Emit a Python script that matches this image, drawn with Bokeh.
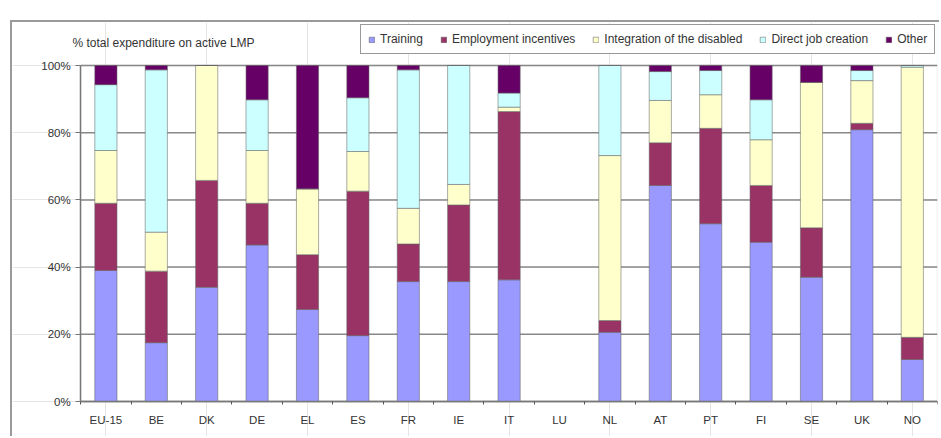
from bokeh.plotting import figure
from bokeh.models import (ColumnDataSource, FixedTicker, Range1d, Label, LinearAxis,
                          PrintfTickFormatter, BoxAnnotation)
from bokeh.embed import file_html
from bokeh.resources import INLINE

countries = ["EU-15", "BE", "DK", "DE", "EL", "ES", "FR", "IE", "IT", "LU",
             "NL", "AT", "PT", "FI", "SE", "UK", "NO"]
series_names = ["Training", "Employment incentives", "Integration of the disabled",
                "Direct job creation", "Other"]
training = [39.0, 17.5, 34.0, 46.6, 27.4, 19.6, 35.7, 35.7, 36.2, 0.0,
            20.6, 64.3, 52.9, 47.4, 37.0, 80.9, 12.5]
employment = [20.0, 21.3, 31.8, 12.4, 16.3, 43.0, 11.2, 22.8, 50.1, 0.0,
              3.5, 12.7, 28.4, 16.9, 14.7, 1.9, 6.6]
integration = [15.7, 11.6, 34.2, 15.7, 19.6, 11.8, 10.6, 6.1, 1.3, 0.0,
               49.1, 12.6, 10.0, 13.6, 43.3, 12.7, 80.4]
direct = [19.6, 48.3, 0.0, 15.1, 0.0, 16.0, 41.2, 35.4, 4.2, 0.0,
          26.8, 8.6, 7.2, 11.9, 0.0, 3.0, 0.5]
other = [5.7, 1.3, 0.0, 10.2, 36.7, 9.6, 1.3, 0.0, 8.2, 0.0,
         0.0, 1.8, 1.5, 10.2, 5.0, 1.5, 0.0]
y_ticks = [0, 20, 40, 60, 80, 100]

colors = ["#9999FF", "#993366", "#FFFFCC", "#CCFFFF", "#660066"]
FONT = "Liberation Sans"

n = len(countries)
xs = list(range(n))
src = ColumnDataSource(dict(x=xs, s0=training, s1=employment, s2=integration,
                            s3=direct, s4=other))

# the frame covers the whole canvas so that title, legend and tick labels are not clipped
x_lo, x_hi = -0.5, n - 0.5
px_per_x = 50.4
px_per_y = 3.36
x_start = x_hi - 925 / px_per_x
y_top = (401 - 22) / px_per_y
y_bottom = -(438 - 401) / px_per_y

p = figure(width=929, height=416, output_backend="svg", toolbar_location=None,
           x_range=Range1d(x_start, x_hi), y_range=Range1d(y_bottom, y_top),
           x_axis_location=None, y_axis_location=None,
           min_border_left=0, min_border_right=4, min_border_top=0, min_border_bottom=0)
p.styles = {"margin-left": "10px", "margin-top": "20px",
            "border-left": "2px solid #9a9a9a", "border-top": "2px solid #9a9a9a"}
p.outline_line_color = None
p.background_fill_color = "white"
p.border_fill_color = "white"

# plot-area border
p.add_layout(BoxAnnotation(left=x_lo, right=x_hi, bottom=0, top=100, fill_alpha=0,
                           line_color="#bbbbbb", line_width=1.5, level="underlay"))
# horizontal grid lines at the y ticks
p.segment(x0=x_lo, x1=x_hi, y0=y_ticks, y1=y_ticks, line_color="#888888", line_width=1.5)

p.vbar_stack(["s0", "s1", "s2", "s3", "s4"], x="x", width=0.44, color=colors,
             line_color="#666666", line_alpha=0.55, line_width=1,
             source=src, legend_label=series_names)

yax = LinearAxis(fixed_location=x_lo, bounds=(0, 100))
yax.ticker = FixedTicker(ticks=y_ticks)
yax.formatter = PrintfTickFormatter(format="%d%%")
yax.major_tick_out = 5
yax.major_tick_in = 0
yax.minor_tick_out = 0
yax.minor_tick_in = 0
yax.major_label_standoff = 5
p.add_layout(yax, "left")

xax = LinearAxis(fixed_location=0, bounds=(x_lo, x_hi))
xax.ticker = FixedTicker(ticks=xs, minor_ticks=[i - 0.5 for i in range(n + 1)])
xax.major_label_overrides = {i: c for i, c in enumerate(countries)}
xax.major_tick_out = 0
xax.major_tick_in = 0
xax.minor_tick_out = 3
xax.minor_tick_in = 0
xax.major_label_standoff = 9
p.add_layout(xax, "below")

for ax in (xax, yax):
    ax.axis_line_color = "#777777"
    ax.axis_line_width = 1.5
    ax.major_tick_line_color = "#777777"
    ax.minor_tick_line_color = "#555555"
    ax.major_label_text_font = FONT
    ax.major_label_text_font_size = "11.5px"
    ax.major_label_text_color = "#333333"

title = Label(x=x_start + 60 / px_per_x, y=(401 - 42) / px_per_y,
              text="% total expenditure on active LMP",
              text_font=FONT, text_font_size="12px", text_color="#333333",
              text_baseline="middle", text_align="left")
p.add_layout(title)

lg = p.legend[0]
lg.orientation = "horizontal"
# bottom-left corner of the legend box, in pixels from the frame's bottom-left
lg.location = (360 - 12, 438 - 54)
lg.label_text_font = FONT
lg.label_text_font_size = "12px"
lg.label_text_color = "#333333"
lg.glyph_width = 7
lg.glyph_height = 7
lg.label_standoff = 5
lg.spacing = 17
lg.padding = 7
lg.margin = 0
lg.border_line_color = "#333333"
lg.border_line_width = 1.5
lg.background_fill_alpha = 1.0

open("out.html", "w").write(file_html(p, INLINE))
